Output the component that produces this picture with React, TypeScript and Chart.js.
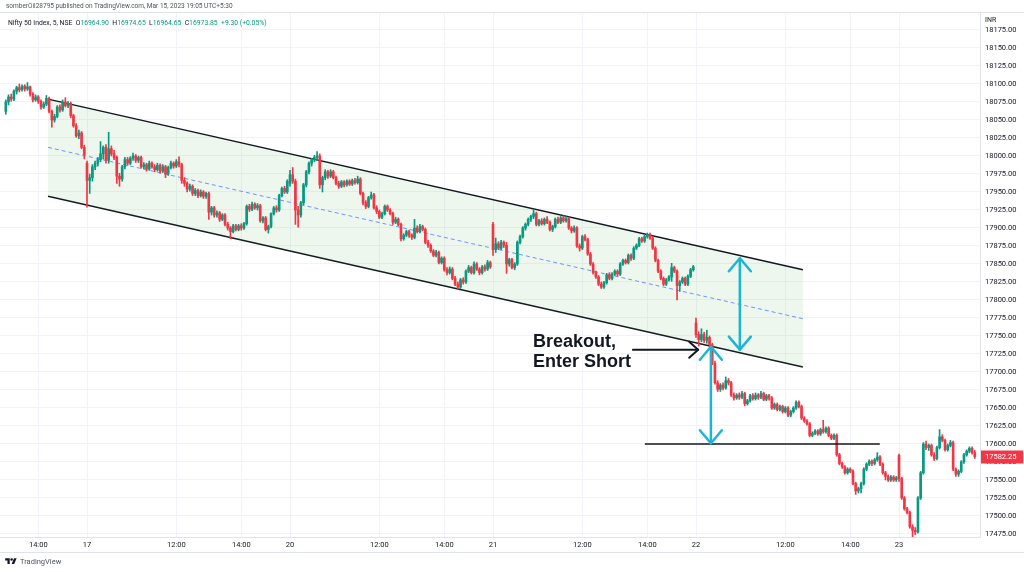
import React, { useEffect, useRef } from "react";
import { Chart, registerables } from "chart.js";

Chart.register(...registerables);

// ---------- DATA (5-minute candles, [open, high, low, close]) ----------
const session16: number[][] = [
  [18062,18078,18058,18075],[18075,18085,18071,18082],[18082,18086,18076,18079],[18079,18092,18077,18090],
  [18090,18097,18086,18095],[18095,18100,18089,18092],[18092,18099,18090,18097],[18097,18099,18090,18093],
  [18093,18102,18091,18096],[18096,18097,18083,18086],[18086,18088,18075,18078],[18078,18085,18076,18082],
  [18082,18084,18073,18076],[18076,18078,18065,18068],[18068,18075,18066,18072],[18072,18084,18070,18080],
  [18080,18082,18060,18062],[18062,18064,18040,18050],[18050,18058,18047,18055],[18055,18070,18053,18068],
  [18068,18071,18061,18064],[18064,18078,18062,18075],[18075,18081,18068,18070],[18070,18076,18067,18073],
  [18073,18075,18053,18056],[18056,18058,18040,18042],[18042,18045,18026,18028],[18028,18036,18024,18032],
  [18032,18034,18010,18012],[18012,18015,17996,18002],
];
const session17: number[][] = [
  [17990,17993,17929,17966],[17966,17975,17948,17970],[17970,17988,17965,17985],[17985,17993,17981,17990],
  [17990,17998,17986,17995],[17995,18020,17992,18003],[18003,18014,17996,18012],[18012,18016,17990,17994],
  [17994,18033,17990,18010],[18010,18014,18000,18003],[18003,18008,17995,17998],[17998,18000,17962,17972],
  [17972,17976,17958,17968],[17968,17987,17965,17985],[17985,17998,17982,17995],[17995,17998,17987,17990],
  [17990,17999,17988,17997],[17997,18004,17994,18000],[18000,18002,17991,17994],[17994,18000,17991,17998],
  [17998,18000,17983,17985],[17985,17991,17982,17988],[17988,17990,17979,17982],[17982,17993,17980,17990],
  [17990,17992,17983,17985],[17985,17988,17978,17981],[17981,17990,17979,17987],[17987,17989,17976,17979],
  [17979,17988,17977,17985],[17985,17987,17970,17975],[17975,17986,17973,17984],[17984,17993,17982,17990],
  [17990,17992,17983,17986],[17986,17995,17984,17992],[17992,17999,17985,17988],[17988,17990,17962,17966],
  [17966,17970,17958,17962],[17962,17964,17950,17954],[17954,17961,17951,17958],[17958,17960,17945,17948],
  [17948,17955,17945,17952],[17952,17954,17942,17945],[17945,17953,17943,17950],[17950,17952,17941,17944],
  [17944,17950,17941,17948],[17948,17950,17912,17922],[17922,17930,17918,17928],[17928,17930,17915,17918],
  [17918,17924,17915,17921],[17921,17923,17909,17912],[17912,17920,17910,17918],[17918,17920,17903,17905],
  [17905,17908,17897,17900],[17900,17902,17885,17895],[17895,17905,17893,17903],[17903,17905,17896,17898],
  [17898,17905,17896,17903],[17903,17906,17897,17900],[17900,17908,17898,17906],[17906,17932,17904,17930],
  [17930,17933,17923,17926],[17926,17936,17924,17933],[17933,17935,17926,17928],[17928,17934,17925,17931],
  [17931,17933,17908,17910],[17910,17916,17907,17914],[17914,17916,17896,17898],[17898,17904,17893,17902],
  [17902,17921,17900,17920],[17920,17930,17918,17928],[17928,17931,17922,17925],[17925,17947,17923,17945],
  [17945,17957,17943,17955],[17955,17958,17948,17950],[17950,17967,17948,17965],
];
const session20: number[][] = [
  [17962,17980,17958,17974],[17974,17984,17962,17965],[17965,17968,17905,17925],[17925,17930,17901,17918],
  [17918,17937,17915,17935],[17935,17962,17932,17960],[17960,17980,17957,17978],[17978,17992,17975,17990],
  [17990,17997,17986,17995],[17995,18001,17992,17998],[17998,18006,17994,18000],[18000,18003,17955,17960],
  [17960,17972,17950,17970],[17970,17981,17967,17978],[17978,17980,17969,17972],[17972,17981,17970,17978],
  [17978,17980,17968,17970],[17970,17972,17960,17962],[17962,17965,17955,17958],[17958,17966,17956,17964],
  [17964,17966,17957,17960],[17960,17967,17958,17965],[17965,17967,17959,17961],[17961,17968,17959,17966],
  [17966,17969,17961,17963],[17963,17972,17961,17968],[17968,17970,17946,17948],[17948,17950,17932,17935],
  [17935,17938,17927,17930],[17930,17944,17928,17942],[17942,17950,17940,17946],[17946,17948,17926,17928],
  [17928,17931,17920,17923],[17923,17925,17913,17915],[17915,17922,17913,17920],[17920,17932,17918,17930],
  [17930,17932,17923,17925],[17925,17927,17918,17920],[17920,17922,17905,17908],[17908,17915,17906,17912],
  [17912,17914,17903,17905],[17905,17907,17882,17885],[17885,17892,17883,17890],[17890,17897,17888,17895],
  [17895,17897,17887,17890],[17890,17892,17884,17887],[17887,17912,17885,17900],[17900,17903,17893,17895],
  [17895,17905,17893,17902],[17902,17904,17896,17898],[17898,17900,17878,17880],[17880,17883,17873,17876],
  [17876,17878,17866,17868],[17868,17870,17860,17862],[17862,17869,17860,17866],[17866,17868,17850,17852],
  [17852,17860,17850,17858],[17858,17860,17840,17842],[17842,17845,17835,17838],[17838,17846,17836,17843],
  [17843,17845,17828,17830],[17830,17833,17820,17822],[17822,17825,17815,17818],[17818,17830,17816,17828],
  [17828,17831,17822,17825],[17825,17842,17823,17840],[17840,17848,17838,17845],[17845,17847,17836,17838],
  [17838,17853,17836,17850],[17850,17852,17841,17843],[17843,17845,17835,17838],[17838,17848,17836,17846],
  [17846,17849,17840,17843],[17843,17855,17841,17852],[17852,17854,17844,17846],
];
const session21: number[][] = [
  [17905,17908,17862,17870],[17870,17886,17866,17878],[17878,17881,17870,17872],[17872,17883,17870,17880],
  [17880,17882,17873,17876],[17876,17880,17837,17850],[17850,17858,17847,17856],[17856,17858,17843,17845],
  [17845,17852,17842,17850],[17850,17882,17848,17880],[17880,17890,17878,17888],[17888,17902,17886,17900],
  [17900,17907,17897,17905],[17905,17914,17903,17912],[17912,17918,17909,17916],[17916,17926,17913,17920],
  [17920,17922,17903,17905],[17905,17912,17903,17910],[17910,17913,17904,17906],[17906,17914,17904,17912],
  [17912,17916,17906,17908],[17908,17910,17896,17898],[17898,17904,17895,17902],[17902,17914,17900,17912],
  [17912,17915,17906,17908],[17908,17916,17906,17914],[17914,17917,17908,17910],[17910,17916,17908,17913],
  [17913,17915,17898,17900],[17900,17902,17893,17896],[17896,17903,17894,17900],[17900,17902,17873,17875],
  [17875,17878,17868,17872],[17872,17890,17870,17888],[17888,17891,17882,17884],[17884,17886,17862,17864],
  [17864,17866,17848,17850],[17850,17852,17836,17838],[17838,17840,17830,17832],[17832,17834,17820,17822],
  [17822,17825,17816,17818],[17818,17826,17816,17824],[17824,17837,17822,17835],[17835,17838,17828,17830],
  [17830,17838,17828,17836],[17836,17842,17834,17840],[17840,17842,17833,17836],[17836,17852,17834,17850],
  [17850,17857,17848,17855],[17855,17857,17850,17852],[17852,17864,17850,17862],[17862,17864,17855,17858],
  [17858,17874,17856,17872],[17872,17878,17870,17876],[17876,17887,17874,17885],[17885,17887,17880,17882],
  [17882,17890,17880,17888],[17888,17893,17886,17891],[17891,17893,17884,17886],[17886,17888,17870,17872],
  [17872,17874,17853,17855],[17855,17857,17838,17840],[17840,17842,17828,17830],[17830,17832,17820,17822],
  [17822,17830,17820,17828],[17828,17834,17826,17832],[17832,17851,17826,17845],[17845,17847,17838,17840],
  [17840,17842,17800,17820],[17820,17827,17812,17825],[17825,17832,17823,17830],[17830,17832,17820,17822],
  [17822,17835,17820,17833],[17833,17844,17831,17842],[17842,17848,17840,17846],
];
const session22: number[][] = [
  [17768,17775,17748,17752],[17752,17756,17736,17745],[17745,17760,17742,17752],[17752,17755,17741,17744],
  [17744,17758,17740,17748],[17748,17750,17735,17738],[17738,17740,17710,17712],[17712,17715,17683,17685],
  [17685,17688,17673,17676],[17676,17684,17673,17682],[17682,17685,17675,17678],[17678,17693,17676,17688],
  [17688,17691,17682,17685],[17685,17687,17666,17668],[17668,17671,17661,17664],[17664,17670,17662,17668],
  [17668,17671,17662,17665],[17665,17673,17663,17670],[17670,17672,17653,17656],[17656,17662,17654,17660],
  [17660,17669,17658,17667],[17667,17670,17661,17663],[17663,17671,17661,17668],[17668,17670,17662,17665],
  [17665,17673,17663,17670],[17670,17672,17660,17662],[17662,17669,17660,17667],[17667,17669,17661,17664],
  [17664,17666,17648,17650],[17650,17657,17648,17655],[17655,17657,17646,17648],[17648,17654,17646,17652],
  [17652,17654,17643,17645],[17645,17652,17643,17650],[17650,17652,17638,17640],[17640,17647,17638,17645],
  [17645,17652,17643,17650],[17650,17660,17648,17658],[17658,17660,17650,17652],[17652,17654,17634,17636],
  [17636,17638,17630,17632],[17632,17634,17626,17628],[17628,17630,17610,17612],[17612,17617,17610,17615],
  [17615,17620,17613,17618],[17618,17620,17612,17614],[17614,17622,17612,17620],[17620,17633,17615,17617],
  [17617,17624,17615,17622],[17622,17624,17610,17612],[17612,17614,17606,17608],[17608,17614,17606,17612],
  [17612,17614,17583,17585],[17585,17587,17571,17573],[17573,17575,17566,17568],[17568,17570,17558,17560],
  [17560,17567,17558,17565],[17565,17567,17560,17562],[17562,17564,17543,17545],[17545,17547,17530,17535],
  [17535,17540,17532,17538],[17538,17547,17532,17545],[17545,17567,17543,17565],[17565,17574,17563,17572],
  [17572,17578,17570,17576],[17576,17578,17570,17573],[17573,17580,17571,17578],[17578,17588,17576,17582],
  [17582,17584,17570,17572],[17572,17574,17558,17560],[17560,17562,17550,17555],[17555,17557,17548,17550],
  [17550,17556,17548,17554],[17554,17556,17548,17550],[17550,17555,17548,17553],
];
const session23: number[][] = [
  [17584,17586,17548,17552],[17552,17554,17523,17525],[17525,17527,17508,17510],[17510,17512,17503,17505],
  [17505,17507,17483,17485],[17485,17488,17471,17480],[17480,17484,17474,17478],[17478,17527,17476,17525],
  [17525,17562,17523,17560],[17560,17602,17558,17600],[17600,17604,17592,17595],[17595,17600,17591,17598],
  [17598,17600,17583,17585],[17585,17588,17577,17580],[17580,17597,17578,17595],[17595,17620,17593,17610],
  [17610,17613,17603,17605],[17605,17607,17590,17592],[17592,17600,17590,17598],[17598,17605,17596,17602],
  [17602,17604,17563,17565],[17565,17567,17555,17558],[17558,17564,17555,17562],[17562,17577,17560,17575],
  [17575,17587,17573,17585],[17585,17592,17583,17590],[17590,17596,17588,17594],[17594,17596,17586,17588],
  [17588,17591,17580,17582.25],
];
// bar index of the first candle of each session (index 0 = first bar of the 17th)
const sessionStart = [-30, 0, 75, 150, 225, 300];

const timeTickIndex = [-18, 0, 33, 57, 75, 108, 132, 150, 183, 207, 225, 258, 282, 300];
const timeTickLabels = ["14:00", "17", "12:00", "14:00", "20", "12:00", "14:00", "21", "12:00", "14:00", "22", "12:00", "14:00", "23"];

const priceTickFirst = 17475;
const priceTickLast = 18175;
const priceTickStep = 25;

// parallel channel (bar index, price)
const channelX = [-14.4, 264.5];
const channelUpper = [18079, 17842];
const channelMid = [18012, 17774];
const channelLower = [17944, 17707];

// target line
const targetX = [206.1, 292.9];
const targetPrice = [17600, 17600];

// measurement arrows [bar index, top price, bottom price]
const measureArrows = [
  [241.2, 17858, 17731],
  [230.5, 17735, 17601],
];
// breakout pointer [from index, to index, price]
const pointerArrow = [201.7, 225.8, 17731];
const noteLines = ["Breakout,", "Enter Short"];
const noteAnchor = [164.8, 17731];

const lastPrice = 17582.25;

// ---------- VIEW ----------
const X_MIN = -32.143;
const X_MAX = 329.926;
const Y_MIN = 17470.833;
const Y_MAX = 18198.611;

const UP = "#089981";
const DOWN = "#f23645";
const GRID = "#f0f3fa";
const BORDER = "#e0e3eb";
const TEXT = "#131722";
const FONT = "Roboto, 'Liberation Sans', Arial, sans-serif";

export default function App() {
  const ref = useRef<HTMLCanvasElement>(null);

  useEffect(() => {
    const sessions = [session16, session17, session20, session21, session22, session23];
    const candles: { x: number; o: number; h: number; l: number; c: number }[] = [];
    sessions.forEach((s, si) =>
      s.forEach((v, k) => candles.push({ x: sessionStart[si] + k, o: v[0], h: v[1], l: v[2], c: v[3] }))
    );
    const colors = candles.map((c) => (c.c >= c.o ? UP : DOWN));
    const priceTicks: number[] = [];
    for (let p = priceTickFirst; p <= priceTickLast; p += priceTickStep) priceTicks.push(p);

    const overlay = {
      id: "overlay",
      afterDatasetsDraw(chart: any) {
        const { ctx } = chart;
        const xs = chart.scales.x;
        const ys = chart.scales.y;
        ctx.save();
        // cyan measure arrows
        ctx.strokeStyle = "#1cb5d3";
        ctx.lineWidth = 2.5;
        ctx.lineCap = "round";
        ctx.lineJoin = "round";
        for (const a of measureArrows) {
          const px = xs.getPixelForValue(a[0]);
          const top = ys.getPixelForValue(a[1]);
          const bot = ys.getPixelForValue(a[2]);
          ctx.beginPath();
          ctx.moveTo(px, top);
          ctx.lineTo(px, bot);
          ctx.stroke();
          ctx.beginPath();
          ctx.moveTo(px - 11, top + 13);
          ctx.lineTo(px, top);
          ctx.lineTo(px + 11, top + 13);
          ctx.stroke();
          ctx.beginPath();
          ctx.moveTo(px - 11, bot - 13);
          ctx.lineTo(px, bot);
          ctx.lineTo(px + 11, bot - 13);
          ctx.stroke();
        }
        // black pointer arrow
        ctx.strokeStyle = TEXT;
        ctx.lineWidth = 2;
        const ax0 = xs.getPixelForValue(pointerArrow[0]);
        const ax1 = xs.getPixelForValue(pointerArrow[1]);
        const ay = ys.getPixelForValue(pointerArrow[2]);
        ctx.beginPath();
        ctx.moveTo(ax0, ay);
        ctx.lineTo(ax1, ay);
        ctx.stroke();
        ctx.beginPath();
        ctx.moveTo(ax1 - 9, ay - 8);
        ctx.lineTo(ax1, ay);
        ctx.lineTo(ax1 - 9, ay + 8);
        ctx.stroke();
        // note text
        ctx.fillStyle = TEXT;
        ctx.font = "bold 18px 'Liberation Sans', Arial, sans-serif";
        ctx.textAlign = "left";
        ctx.textBaseline = "alphabetic";
        const tx = xs.getPixelForValue(noteAnchor[0]);
        const ty = ys.getPixelForValue(noteAnchor[1]);
        ctx.fillText(noteLines[0], tx, ty - 3);
        ctx.fillText(noteLines[1], tx, ty + 17);
        ctx.restore();
      },
      afterDraw(chart: any) {
        const { ctx, chartArea } = chart;
        const ys = chart.scales.y;
        ctx.save();
        ctx.strokeStyle = BORDER;
        ctx.lineWidth = 1;
        ctx.beginPath();
        ctx.moveTo(0, chartArea.top - 0.5);
        ctx.lineTo(1024, chartArea.top - 0.5);
        ctx.moveTo(0, chartArea.bottom + 15.5);
        ctx.lineTo(1024, chartArea.bottom + 15.5);
        ctx.stroke();
        // last price label
        const py = ys.getPixelForValue(lastPrice);
        ctx.fillStyle = DOWN;
        ctx.fillRect(chartArea.right + 1, Math.round(py) - 6.5, 42, 13);
        ctx.fillStyle = "#ffffff";
        ctx.font = "7.5px " + FONT;
        ctx.textBaseline = "middle";
        ctx.textAlign = "left";
        ctx.fillText(lastPrice.toFixed(2), chartArea.right + 5, Math.round(py));
        ctx.restore();
      },
    };

    const chart = new Chart(ref.current as HTMLCanvasElement, {
      type: "bar",
      data: {
        datasets: [
          {
            type: "line",
            data: channelX.map((x, i) => ({ x, y: channelUpper[i] })),
            borderColor: TEXT,
            borderWidth: 1.5,
            pointRadius: 0,
            fill: 1,
            backgroundColor: "rgba(76,175,80,0.1)",
            order: 10,
          } as any,
          {
            type: "line",
            data: channelX.map((x, i) => ({ x, y: channelLower[i] })),
            borderColor: TEXT,
            borderWidth: 1.5,
            pointRadius: 0,
            fill: false,
            order: 10,
          } as any,
          {
            type: "line",
            data: channelX.map((x, i) => ({ x, y: channelMid[i] })),
            borderColor: "#6f93ff",
            borderWidth: 1,
            borderDash: [4, 3],
            pointRadius: 0,
            fill: false,
            order: 9,
          } as any,
          {
            type: "bar",
            data: candles.map((c) => ({ x: c.x, y: [c.l, c.h] })),
            backgroundColor: colors,
            barThickness: 1,
            grouped: false,
            order: 2,
          } as any,
          {
            type: "bar",
            data: candles.map((c) => ({ x: c.x, y: [c.o, c.c] })),
            backgroundColor: colors,
            barThickness: 2,
            minBarLength: 1,
            grouped: false,
            order: 1,
          } as any,
          {
            type: "line",
            data: targetX.map((x, i) => ({ x, y: targetPrice[i] })),
            borderColor: TEXT,
            borderWidth: 1.5,
            pointRadius: 0,
            fill: false,
            order: 0,
          } as any,
        ],
      },
      options: {
        responsive: false,
        animation: false,
        events: [],
        layout: { padding: { top: 13, bottom: 20, left: 0, right: 0 } },
        plugins: { legend: { display: false }, tooltip: { enabled: false } },
        scales: {
          x: {
            type: "linear",
            min: X_MIN,
            max: X_MAX,
            offset: false,
            grid: { color: GRID, drawTicks: false, offset: false },
            border: { color: BORDER },
            afterBuildTicks: (s: any) => {
              s.ticks = timeTickIndex.map((v) => ({ value: v }));
            },
            afterFit: (s: any) => {
              s.height = 15;
            },
            ticks: {
              autoSkip: false,
              maxRotation: 0,
              padding: 4,
              color: TEXT,
              font: { size: 7.5, family: FONT },
              callback: (v: any) => {
                const i = timeTickIndex.indexOf(Number(v));
                return i >= 0 ? timeTickLabels[i] : "";
              },
            },
          },
          y: {
            type: "linear",
            position: "right",
            min: Y_MIN,
            max: Y_MAX,
            grid: { color: GRID, drawTicks: false },
            border: { color: BORDER },
            afterBuildTicks: (s: any) => {
              s.ticks = priceTicks.map((v) => ({ value: v }));
            },
            afterFit: (s: any) => {
              s.width = 44;
            },
            ticks: {
              autoSkip: false,
              padding: 5,
              color: TEXT,
              font: { size: 7.5, family: FONT },
              callback: (v: any) => Number(v).toFixed(2),
            },
          },
        },
      } as any,
      plugins: [overlay],
    });
    return () => chart.destroy();
  }, []);

  const small: React.CSSProperties = { position: "absolute", whiteSpace: "nowrap", fontFamily: FONT };
  const green: React.CSSProperties = { color: UP };
  return (
    <div style={{ position: "fixed", left: 0, top: 0, width: 1024, height: 572, background: "#fff", overflow: "hidden" }}>
      <canvas ref={ref} width={1024} height={572} style={{ display: "block", width: 1024, height: 572 }} />
      <div style={{ ...small, left: 6, top: 2, fontSize: 6.5, lineHeight: "9px", color: "#50535e" }}>
        somberOil28795 published on TradingView.com, Mar 15, 2023 19:05 UTC+5:30
      </div>
      <div style={{ ...small, left: 8, top: 19, fontSize: 6.8, lineHeight: "9px", color: TEXT }}>
        Nifty 50 Index, 5, NSE&nbsp;&nbsp;O<span style={green}>16964.90</span>&nbsp;&nbsp;H<span style={green}>16974.65</span>
        &nbsp;&nbsp;L<span style={green}>16964.65</span>&nbsp;&nbsp;C<span style={green}>16973.85</span>&nbsp;&nbsp;
        <span style={green}>+9.30 (+0.05%)</span>
      </div>
      <div style={{ ...small, left: 985, top: 16, fontSize: 7, lineHeight: "9px", color: TEXT }}>INR</div>
      <div style={{ ...small, left: 5, top: 557, display: "flex", alignItems: "center", gap: 3 }}>
        <svg width="12" height="9" viewBox="0 0 36 28">
          <path d="M14 22H7V11H0V4h14v18zM28 22h-8l7.5-18h8L28 22z" fill="#131722" />
          <circle cx="20" cy="8" r="4" fill="#131722" />
        </svg>
        <span style={{ fontSize: 7.5, color: "#50535e" }}>TradingView</span>
      </div>
    </div>
  );
}
